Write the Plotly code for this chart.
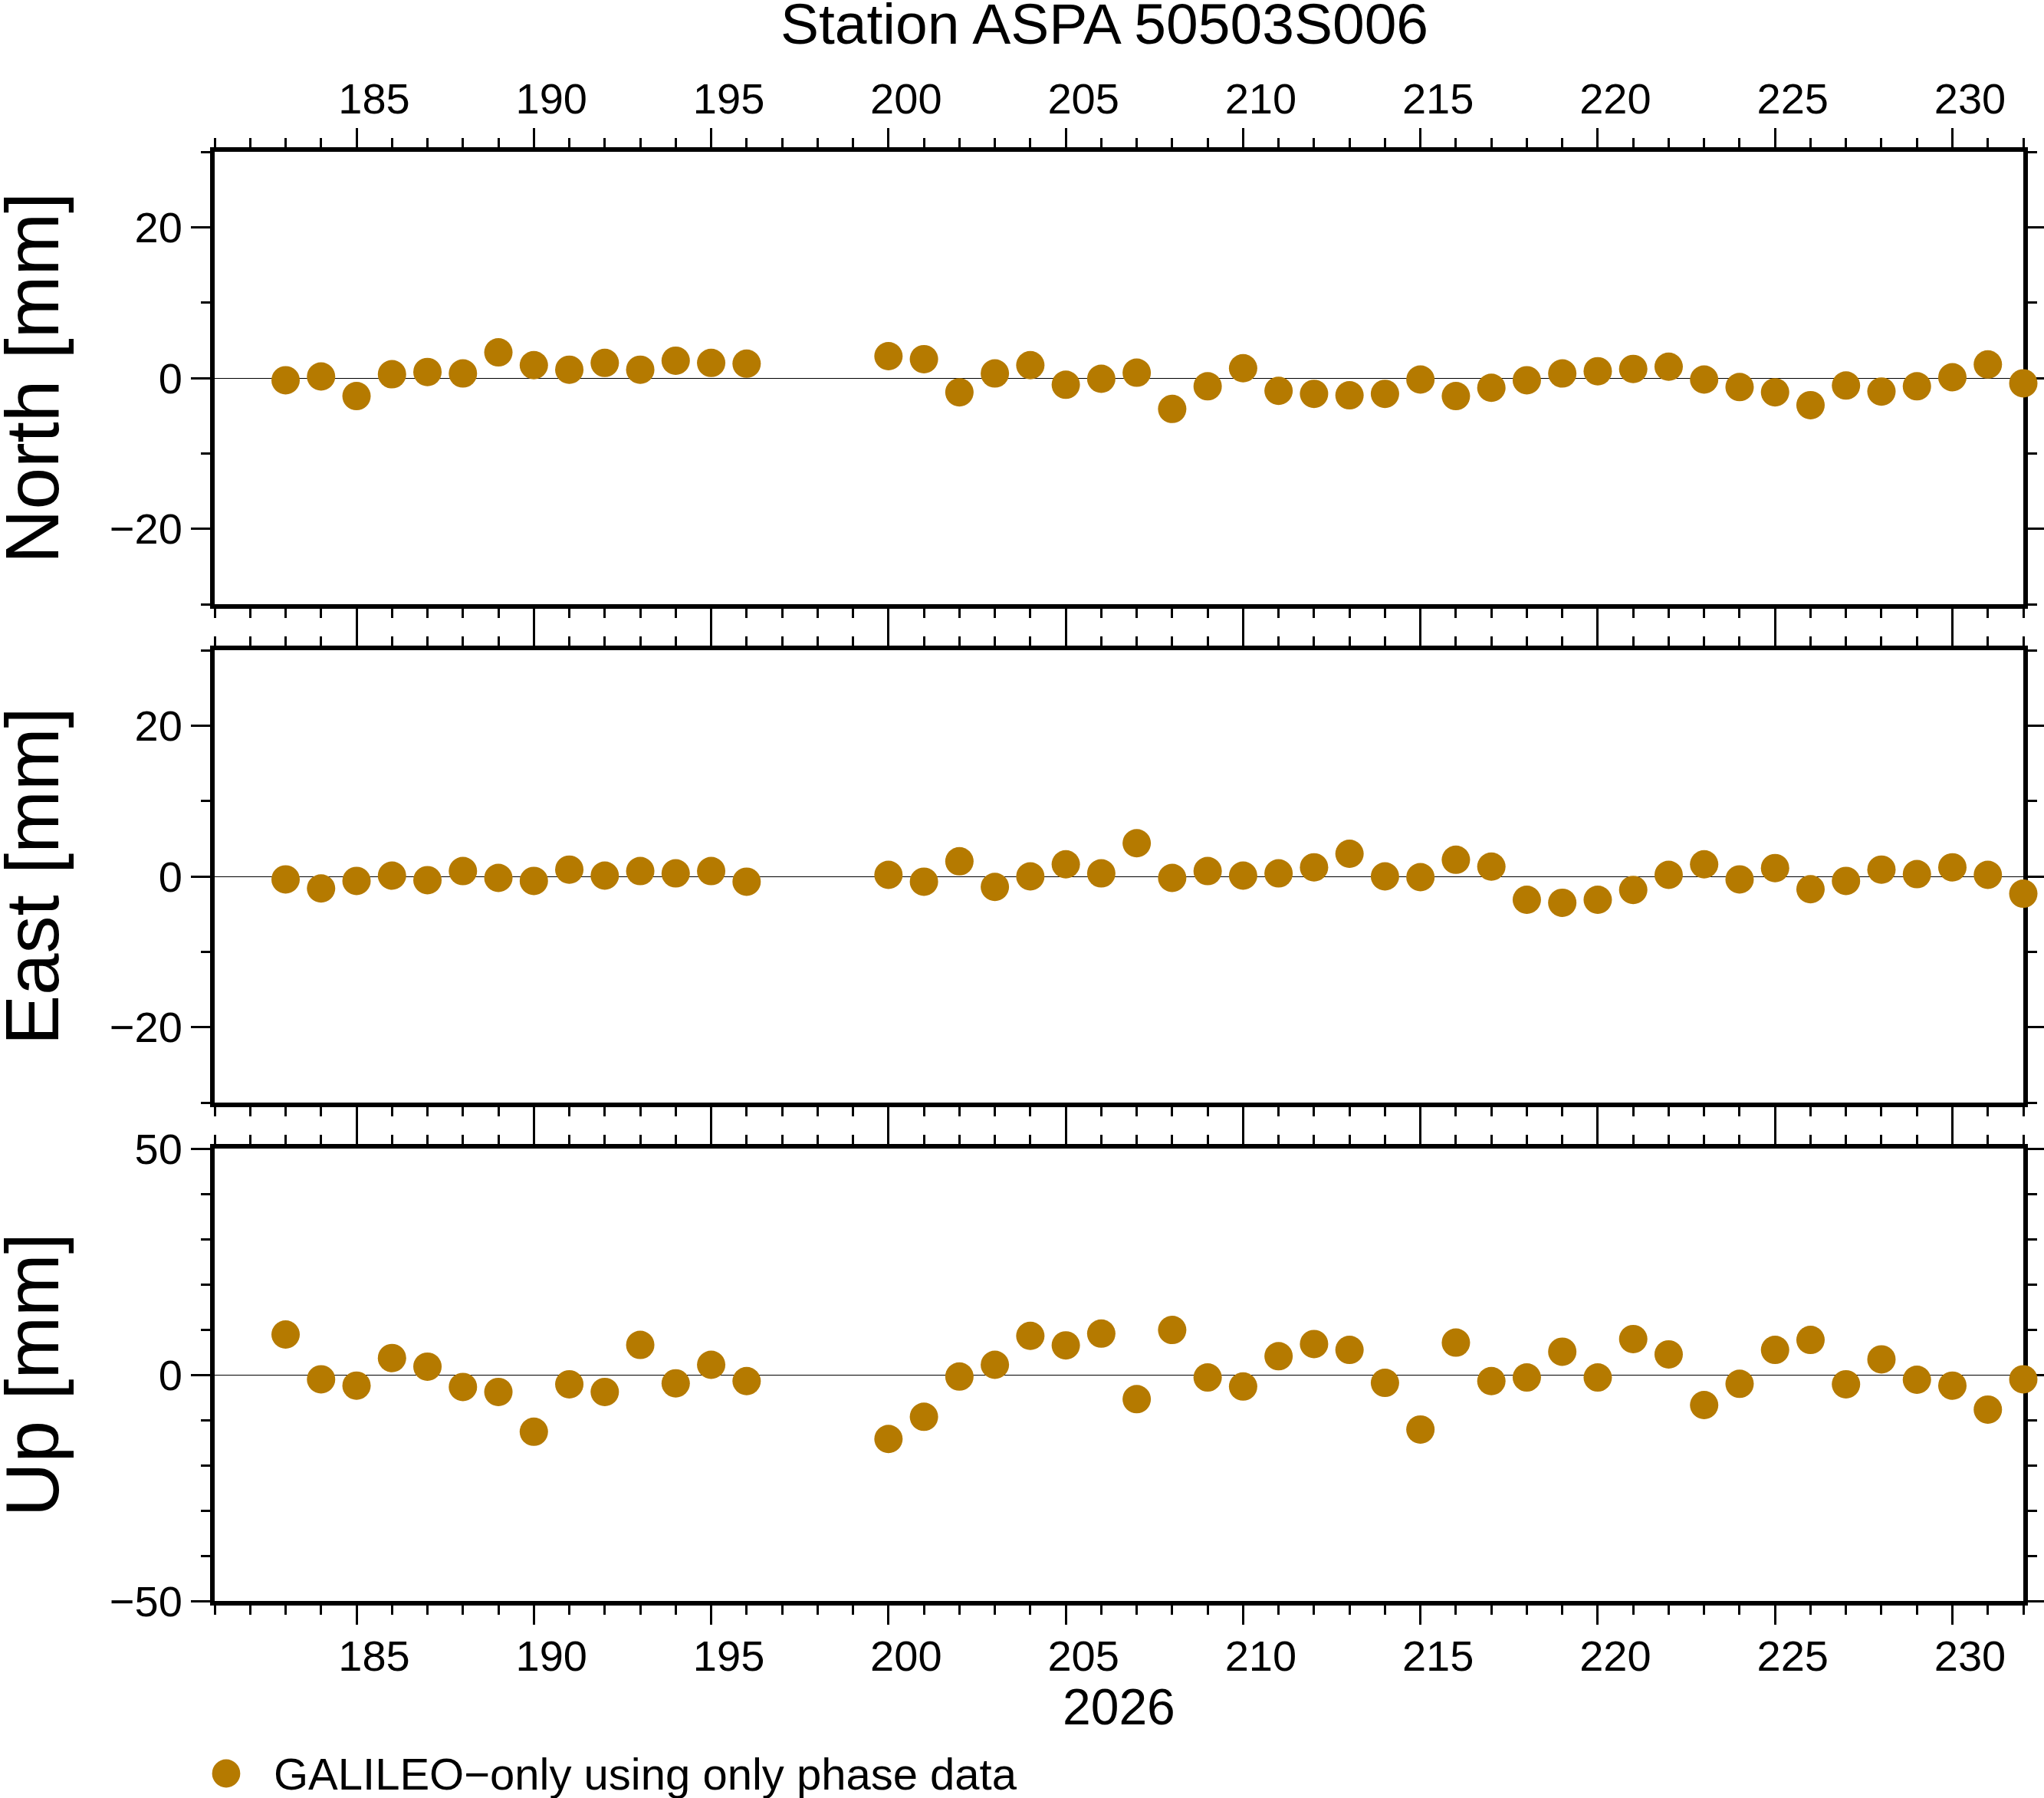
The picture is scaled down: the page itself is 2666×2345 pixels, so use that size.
import plotly.graph_objects as go

# day of year 2026
days = [183, 184, 185, 186, 187, 188, 189, 190, 191, 192, 193, 194, 195, 196,
        200, 201, 202, 203, 204, 205, 206, 207, 208, 209, 210, 211, 212, 213,
        214, 215, 216, 217, 218, 219, 220, 221, 222, 223, 224, 225, 226, 227,
        228, 229, 230, 231, 232]

north = [-0.3, 0.2, -2.4, 0.5, 0.8, 0.6, 3.4, 1.7, 1.1, 2.0, 1.1, 2.3, 2.0, 1.9,
         2.9, 2.5, -1.9, 0.6, 1.7, -0.9, -0.1, 0.7, -4.1, -1.1, 1.3, -1.7, -2.1, -2.3,
         -2.1, -0.2, -2.4, -1.3, -0.3, 0.6, 0.9, 1.2, 1.5, -0.2, -1.2, -1.9, -3.6, -1.0,
         -1.8, -1.1, 0.1, 1.8, -0.7]

east = [-0.4, -1.6, -0.6, 0.1, -0.5, 0.7, -0.2, -0.6, 0.9, 0.1, 0.7, 0.4, 0.7, -0.7,
        0.2, -0.7, 2.0, -1.4, 0.0, 1.6, 0.4, 4.4, -0.2, 0.7, 0.1, 0.4, 1.2, 3.0,
        0.0, -0.1, 2.2, 1.3, -3.1, -3.5, -3.1, -1.8, 0.2, 1.6, -0.4, 1.1, -1.7, -0.6,
        0.9, 0.3, 1.2, 0.2, -2.3]

up = [8.9, -1.0, -2.4, 3.7, 1.8, -2.7, -3.8, -12.6, -2.1, -3.8, 6.6, -1.9, 2.2, -1.4,
      -14.2, -9.3, -0.4, 2.2, 8.6, 6.5, 9.1, -5.4, 9.9, -0.6, -2.6, 4.1, 6.8, 5.5,
      -1.8, -12.1, 7.1, -1.4, -0.6, 5.1, -0.6, 7.9, 4.5, -6.7, -2.0, 5.5, 7.7, -2.1,
      3.4, -1.1, -2.4, -7.7, -1.0]

panel_titles = ["North [mm]", "East [mm]", "Up [mm]"]
legend_text = "GALILEO\u2212only using only phase data"

# the page is shot a little wider than the target and squeezed back to 2666,
# so lay out horizontally on a 2682 px wide canvas
W, H = 2682, 2345
SX = W / 2666
L, R, T, B = 278 * SX, 26 * SX, 198, 257
PW, PH = W - L - R, H - T - B
FONT = "Liberation Sans, Arial, Helvetica, sans-serif"
DOT = "#b57a00"


def px_x(x):
    # target x pixel -> paper fraction
    return (x * SX - L) / PW


def px_y(y):
    # target y pixel -> paper fraction
    return (H - B - y) / PH


doms = [[1300 / PH, 1.0], [650 / PH, 1240 / PH], [0.0, 590 / PH]]

fig = go.Figure()
for i, vals in enumerate([north, east, up]):
    fig.add_trace(go.Scatter(
        x=days, y=vals, mode="markers",
        marker=dict(size=37, color=DOT, line=dict(width=0)),
        xaxis="x" if i == 0 else "x%d" % (i + 1),
        yaxis="y" if i == 0 else "y%d" % (i + 1),
        cliponaxis=False, showlegend=False, hoverinfo="skip",
    ))

# day labels sit in the middle of the day interval (shift by half a day)
common_x = dict(
    range=[181, 232], tick0=0, dtick=5, ticks="outside", ticklen=25, tickwidth=3,
    tickcolor="black", showline=True, linewidth=6, linecolor="black", mirror="ticks",
    showgrid=False, zeroline=False, layer="below traces", ticklabelshift=23,
    tickfont=dict(size=56, color="black", family=FONT),
    minor=dict(dtick=1, ticks="outside", ticklen=12, tickwidth=3, tickcolor="black"),
)
common_y = dict(
    ticks="outside", ticklen=25, tickwidth=3, tickcolor="black",
    showline=True, linewidth=6, linecolor="black", mirror="ticks",
    showgrid=False, zeroline=True, zerolinecolor="black", zerolinewidth=1,
    layer="below traces", tickfont=dict(size=56, color="black", family=FONT),
)

fig.update_layout(
    xaxis=dict(common_x, side="top", anchor="y", ticklabelstandoff=-3),
    xaxis2=dict(common_x, showticklabels=False, anchor="y2", matches="x"),
    xaxis3=dict(common_x, side="bottom", anchor="y3", matches="x", ticklabelstandoff=-7),
    yaxis=dict(common_y, domain=doms[0], range=[-30, 30], tickvals=[-20, 0, 20],
               minor=dict(tickvals=[-30, -10, 10, 30], ticks="outside", ticklen=12,
                          tickwidth=3, tickcolor="black"), anchor="x"),
    yaxis2=dict(common_y, domain=doms[1], range=[-30, 30], tickvals=[-20, 0, 20],
                minor=dict(tickvals=[-30, -10, 10, 30], ticks="outside", ticklen=12,
                           tickwidth=3, tickcolor="black"), anchor="x2"),
    yaxis3=dict(common_y, domain=doms[2], range=[-50, 50], tickvals=[-50, 0, 50],
                minor=dict(dtick=10, ticks="outside", ticklen=12,
                           tickwidth=3, tickcolor="black"), anchor="x3"),
    width=W, height=H,
    margin=dict(l=L, r=R, t=T, b=B),
    paper_bgcolor="white", plot_bgcolor="white",
    font=dict(family=FONT, color="black"),
    title=dict(text="Station ASPA 50503S006", font=dict(size=75, color="black"),
               xref="paper", x=px_x(1440), xanchor="center",
               yref="container", y=1 - 31 / H, yanchor="middle"),
    showlegend=False,
)

# y-axis titles
for i, t in enumerate(panel_titles):
    fig.add_annotation(text=t, textangle=-90, xref="paper", yref="paper",
                       x=px_x(40), y=(doms[i][0] + doms[i][1]) / 2,
                       xanchor="center", yanchor="middle", showarrow=False,
                       font=dict(size=98, color="black"))

# year label under the bottom axis
fig.add_annotation(text="2026", xref="paper", yref="paper", x=0.5, y=px_y(2226),
                   xanchor="center", yanchor="middle", showarrow=False,
                   font=dict(size=66, color="black"))

# legend (symbol + text)
ly, lx = px_y(2313), px_x(293)
fig.add_shape(type="circle", xref="paper", yref="paper",
              x0=lx - 18.5 / PW, x1=lx + 18.5 / PW, y0=ly - 18.5 / PH, y1=ly + 18.5 / PH,
              fillcolor=DOT, line=dict(width=0))
fig.add_annotation(text=legend_text, xref="paper", yref="paper",
                   x=px_x(353), y=ly, xanchor="left", yanchor="middle",
                   showarrow=False, font=dict(size=58, color="black"))

fig.write_html(
    "out.html",
    config={"displayModeBar": False},
    post_script=("document.documentElement.style.margin='0';"
                 "document.documentElement.style.overflow='hidden';"
                 "document.body.style.margin='0';document.body.style.overflow='hidden';"),
)
